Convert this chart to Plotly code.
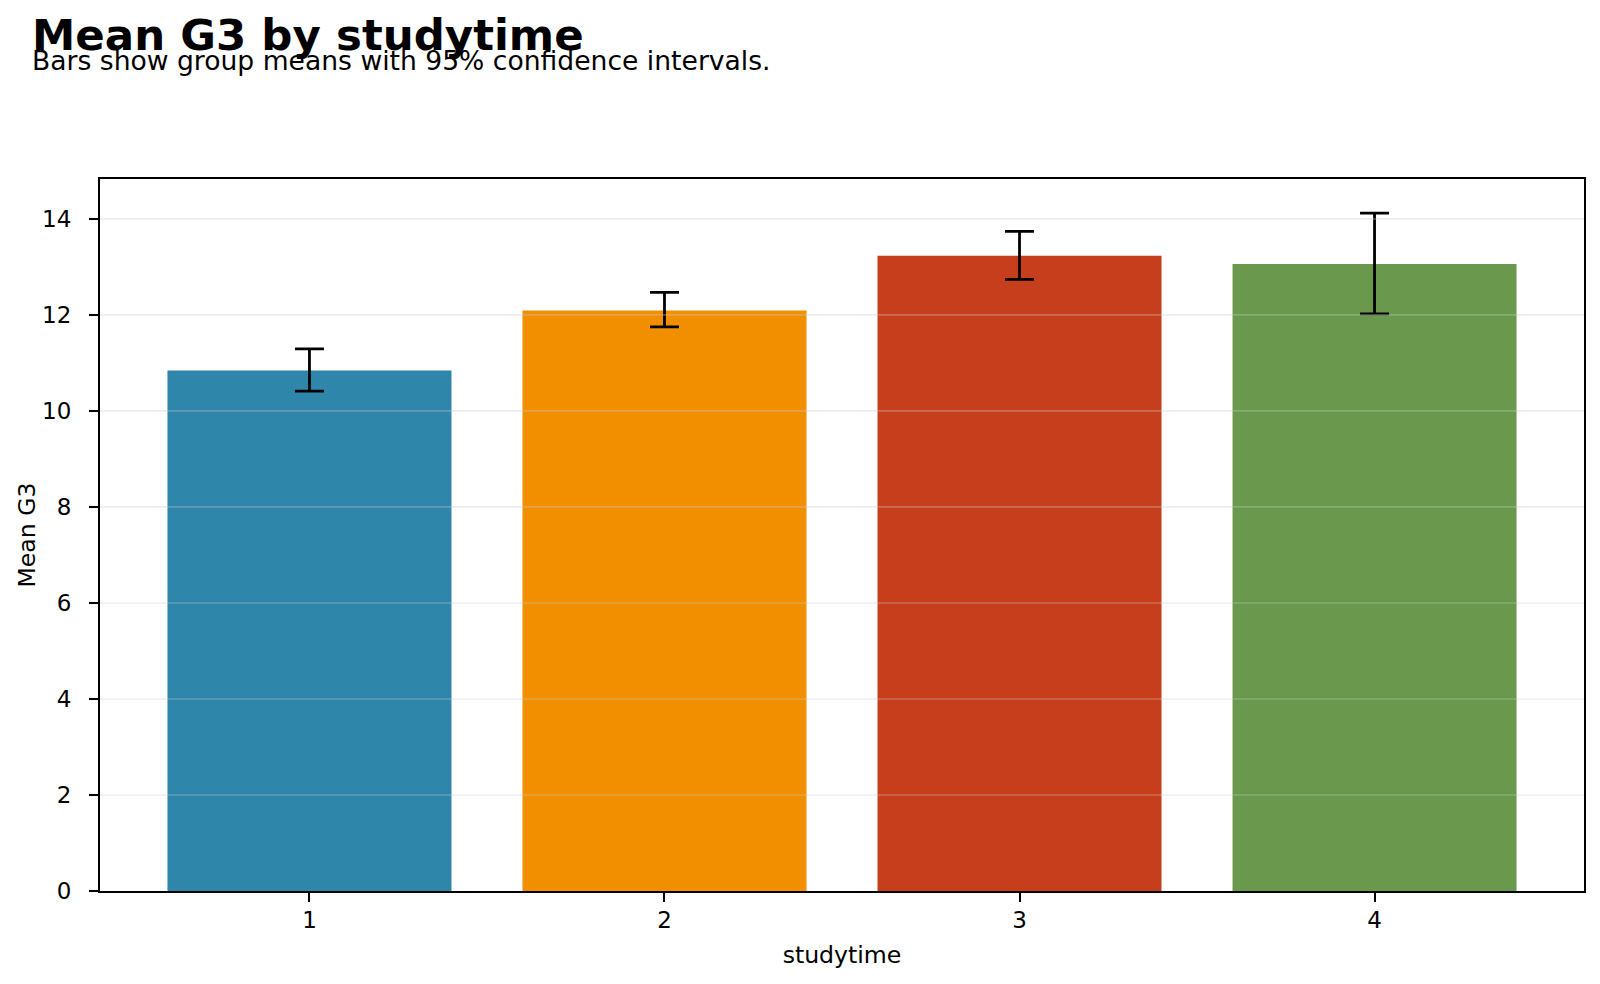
import plotly.graph_objects as go

# ---- data ----
categories = ["1", "2", "3", "4"]
mean_g3 = [10.84, 12.09, 13.23, 13.06]
ci_low = [10.41, 11.75, 12.74, 12.02]
ci_high = [11.29, 12.47, 13.74, 14.12]
bar_colors = ["#2E86AB", "#F18F01", "#C73E1D", "#6A994E"]
y_ticks = [0, 2, 4, 6, 8, 10, 12, 14]

title_text = "Mean G3 by studytime"
subtitle_text = "Bars show group means with 95% confidence intervals."
x_label = "studytime"
y_label = "Mean G3"

FONT = "DejaVu Sans"

err_plus = [h - m for h, m in zip(ci_high, mean_g3)]
err_minus = [m - l for m, l in zip(mean_g3, ci_low)]

fig = go.Figure()
fig.add_trace(go.Bar(
    x=categories,
    y=mean_g3,
    marker=dict(color=bar_colors, line=dict(width=0)),
    error_y=dict(type="data", symmetric=False, array=err_plus, arrayminus=err_minus,
                 color="black", thickness=2.8, width=14.5),
    showlegend=False,
))

# grid lines drawn above bars (semi-transparent), at tick values
for t in y_ticks[1:]:
    fig.add_shape(type="line", xref="paper", yref="y", x0=0, x1=1, y0=t, y1=t,
                  line=dict(color="rgba(200,200,200,0.35)", width=1.6), layer="above")

L, R, T, B = 100, 16, 179, 93
W, H = 1600, 984
ph = H - T - B
pw = W - L - R

def py(p):  # pixel y -> paper y
    return (H - B - p) / ph

def px(p):  # pixel x -> paper x
    return (p - L) / pw

fig.add_annotation(text="<b>" + title_text + "</b>", xref="paper", yref="paper",
                   x=px(30), y=py(35), xanchor="left", yanchor="middle", showarrow=False,
                   font=dict(family=FONT, size=43.5, color="black"))
fig.add_annotation(text=subtitle_text, xref="paper", yref="paper",
                   x=px(30), y=py(60.5), xanchor="left", yanchor="middle", showarrow=False,
                   font=dict(family=FONT, size=26.6, color="black"))

axis_common = dict(
    showline=True, linecolor="black", linewidth=2, mirror=True,
    ticks="outside", ticklen=9, tickwidth=1.8, tickcolor="black",
    tickfont=dict(family=FONT, size=23, color="black"),
    showgrid=False, zeroline=False,
)

fig.update_layout(
    width=W, height=H,
    margin=dict(l=L, r=R, t=T, b=B, pad=0),
    paper_bgcolor="white", plot_bgcolor="white",
    bargap=0.2,
    font=dict(family=FONT, color="black"),
    xaxis=dict(type="category", range=[-0.59, 3.59],
               title=dict(text=x_label, font=dict(family=FONT, size=23.6), standoff=15),
               ticklabelstandoff=-2, **axis_common),
    yaxis=dict(range=[0, 14.83], tickvals=y_ticks,
               title=dict(text=y_label, font=dict(family=FONT, size=23.6), standoff=0),
               ticklabelstandoff=13, **axis_common),
)

fig.write_html("out.html")
